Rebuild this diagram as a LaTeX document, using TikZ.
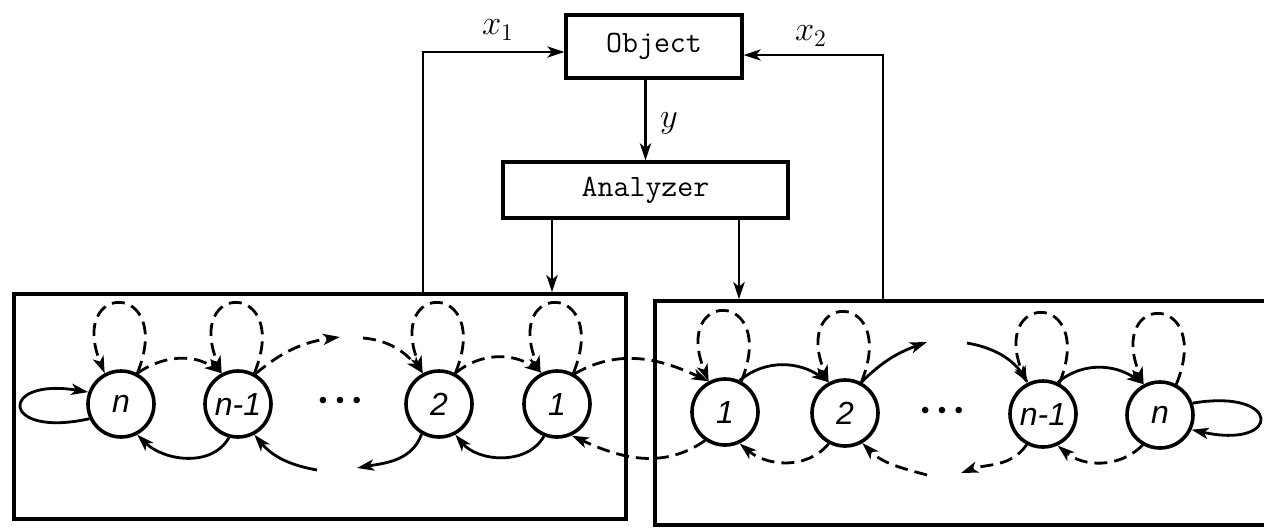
\documentclass[tikz,border=0pt]{standalone}
\usepackage{fontspec}
\newfontfamily\statefont{Liberation Sans}
\usetikzlibrary{arrows.meta}
\begin{document}
\begin{tikzpicture}[x=0.5pt,y=0.5pt,
  tip/.style={-{Stealth[length=8.5pt,width=5.6pt,inset=2.2pt]}},
  wire/.style={line width=1.4pt,tip},
  edge/.style={line width=1.4pt,tip},
  dedge/.style={edge,dash pattern=on 6.5pt off 3.5pt},
  block/.style={draw,line width=1.6pt,inner sep=0pt,
    font=\ttfamily\fontsize{15.5}{18}\selectfont},
  panel/.style={draw,line width=1.8pt,inner sep=0pt},
  state/.style={circle,draw,line width=1.8pt,minimum size=33pt,inner sep=0pt,
    font=\statefont\itshape\fontsize{16}{16}\selectfont},
  lab/.style={inner sep=1pt,font=\fontsize{18}{18}\selectfont},
  ell/.style={inner sep=0pt,font=\statefont\fontsize{12}{12}\selectfont}]
\useasboundingbox (0,0) rectangle (1264,-531);

% controller blocks
\node[block,minimum width=88pt,minimum height=31.5pt] (Obj) at (654,-46.5) {Object};
\node[block,minimum width=142.5pt,minimum height=28pt] (Ana) at (645.5,-190) {Analyzer};

% the two automata panels
\node[panel,minimum width=306pt,minimum height=112.5pt] (LB) at (320,-406.5) {};
\node[panel,minimum width=322.5pt,minimum height=112pt] (RB) at (977.5,-413) {};

% states of the first automaton
\node[state] (Ln) at (121,-404) {n};
\node[state] (Lm) at (238,-404) {n-1};
\node[ell]   (dL) at (340,-403) {•\hspace{4.2pt}•\hspace{4.2pt}•};
\node[state] (L2) at (439,-404) {2};
\node[state] (L1) at (557,-404) {1};

% states of the second automaton
\node[state] (R1) at (725,-412) {1};
\node[state] (R2) at (845,-413) {2};
\node[ell]   (dR) at (942,-413) {•\hspace{4.2pt}•\hspace{4.2pt}•};
\node[state] (Rm) at (1043,-414) {n-1};
\node[state] (Rn) at (1160,-415) {n};

% signal labels
\node[lab] (lx1) at (498,-30) {$x_1$};
\node[lab] (lx2) at (811,-36) {$x_2$};
\node[lab] (ly)  at (669,-123) {$y$};

% bend points and free ends of broken transitions
\coordinate (c1) at (423,-52);
\coordinate (c2) at (883,-55);
\coordinate (aL) at (552,0);
\coordinate (aR) at (739,0);
\coordinate (ltA) at (340,-337);
\coordinate (ltB) at (363,-338);
\coordinate (lbA) at (357,-468);
\coordinate (lbB) at (317,-470);
\coordinate (rtA) at (927,-342);
\coordinate (rtB) at (967,-343);
\coordinate (rbA) at (961,-473);
\coordinate (rbB) at (927,-475);

% feedback loop wiring
\draw[wire] (c1 |- LB.north) -- (c1) -- (c1 -| Obj.west);
\draw[wire] (c2 |- RB.north) -- (c2) -- (c2 -| Obj.east);
\draw[wire] (Ana.north |- Obj.south) -- (Ana.north);
\draw[wire] (aL |- Ana.south) -- (aL |- LB.north);
\draw[wire] (aR |- Ana.south) -- (aR |- RB.north);

% dashed self-loops above every state
\foreach \s in {Ln,Lm,L2,L1,R1,R2,Rm,Rn}
  \draw[dedge] (\s.62) .. controls +(68:100) and +(112:100) .. (\s.118);

% solid self-loops of the end states
\draw[edge] (Ln.205) .. controls +(-90,-20) and +(-90,15) .. (Ln.160);
\draw[edge] (Rn.20) .. controls +(90,15) and +(90,-20) .. (Rn.-25);

% first automaton, upper (dashed) transitions
\draw[dedge] (Ln.62) to[out=35,in=145] (Lm.118);
\draw[dedge] (Lm.60) to[out=40,in=188] (ltA);
\draw[dedge] (ltB) to[out=-5,in=130] (L2.118);
\draw[dedge] (L2.62) to[out=40,in=145] (L1.116);
\draw[dedge] (L1.60) to[out=30,in=155] (R1.118);

% first automaton, lower (solid) transitions
\draw[edge] (Lm.-105) to[out=-120,in=-45] (Ln.-62);
\draw[edge] (lbB) to[out=170,in=-50] (Lm.-62);
\draw[edge] (L2.-120) to[out=-110,in=10] (lbA);
\draw[edge] (L1.-112) to[out=-120,in=-50] (L2.-62);
\draw[dedge] (R1.-125) to[out=-145,in=-25] (L1.-65);

% second automaton, upper (solid) transitions
\draw[edge] (R1.65) to[out=40,in=145] (R2.118);
\draw[edge] (R2.62) to[out=45,in=200] (rtA);
\draw[edge] (rtB) to[out=-10,in=125] (Rm.115);
\draw[edge] (Rm.65) to[out=40,in=145] (Rn.118);

% second automaton, lower (dashed) transitions
\draw[dedge] (R2.-118) to[out=-130,in=-40] (R1.-65);
\draw[dedge] (rbB) to[out=165,in=-45] (R2.-60);
\draw[dedge] (Rm.-118) to[out=-125,in=20] (rbA);
\draw[dedge] (Rn.-120) to[out=-135,in=-40] (Rm.-65);
\end{tikzpicture}
\end{document}
